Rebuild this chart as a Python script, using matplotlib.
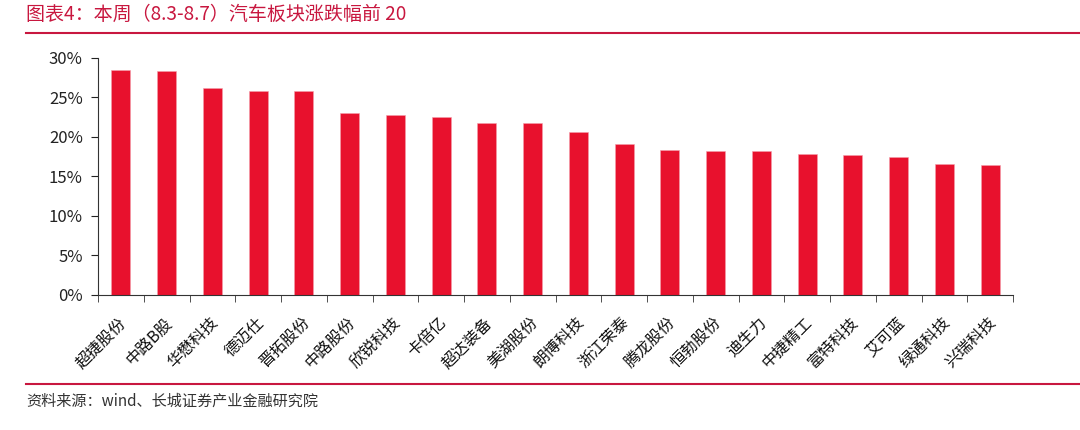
import matplotlib
matplotlib.use("Agg")
import matplotlib.pyplot as plt
import matplotlib.transforms as mtransforms
from matplotlib.ticker import FuncFormatter, FixedLocator
from matplotlib.lines import Line2D

plt.rcParams['font.family'] = ['Noto Sans CJK SC', 'DejaVu Sans']

categories = ["超捷股份", "中路B股", "华懋科技", "德迈仕", "晋拓股份", "中路股份", "欣锐科技",
              "卡倍亿", "超达装备", "美湖股份", "朗博科技", "浙江荣泰", "腾龙股份", "恒勃股份",
              "迪生力", "中捷精工", "富特科技", "艾可蓝", "绿通科技", "兴瑞科技"]
values = [28.5, 28.35, 26.15, 25.8, 25.8, 23.05, 22.8, 22.5, 21.8, 21.7,
          20.6, 19.1, 18.35, 18.25, 18.2, 17.85, 17.75, 17.45, 16.6, 16.45]
yticks = [0, 5, 10, 15, 20, 25, 30]

title = "图表4：本周（8.3-8.7）汽车板块涨跌幅前 20"
source = "资料来源：wind、长城证券产业金融研究院"

red = "#e8112d"
title_red = "#c8173f"

fig = plt.figure(figsize=(10.8, 4.3), dpi=100)
ax = fig.add_axes([98/1080, 1 - 294.7/430, (1013-98)/1080, (294.7-58)/430])

x = list(range(len(categories)))
ax.bar(x, values, width=0.41, color=red, edgecolor="#f4a0ac", linewidth=0.4)
ax.set_xlim(-0.5, len(categories) - 0.5)
ax.set_ylim(0, 30)
ax.set_yticks(yticks)
ax.yaxis.set_major_formatter(FuncFormatter(lambda v, p: f"{int(v)}%"))
ax.tick_params(axis='y', labelsize=12, length=5, direction='out', colors='#222222', pad=6)

ax.xaxis.set_major_locator(FixedLocator(x))
ax.set_xticklabels(categories, rotation=45, ha='right', va='top', rotation_mode='anchor', fontsize=11.5)
ax.tick_params(axis='x', which='major', length=0, pad=14, colors='#111111')
ax.xaxis.set_minor_locator(FixedLocator([i - 0.5 for i in range(len(categories) + 1)]))
ax.tick_params(axis='x', which='minor', length=5, direction='out', color='#333333')
shift = mtransforms.ScaledTranslation(-3/100, 0, fig.dpi_scale_trans)
for lab in ax.get_xticklabels():
    lab.set_transform(lab.get_transform() + shift)

for s in ['top', 'right']:
    ax.spines[s].set_visible(False)
ax.spines['left'].set_color('#333333')
ax.spines['bottom'].set_color('#333333')

fig.text(26/1080, 1 - 14/430, title, color=title_red, fontsize=13.7, style='italic',
         ha='left', va='center')
fig.add_artist(Line2D([26/1080, 1.0], [1 - 33/430, 1 - 33/430], color=title_red, linewidth=1.5,
                      transform=fig.transFigure))
fig.add_artist(Line2D([26/1080, 1.0], [1 - 384/430, 1 - 384/430], color=title_red, linewidth=1.5,
                      transform=fig.transFigure))
fig.text(26/1080, 1 - 401/430, source, color='#333333', fontsize=10.9, style='italic',
         ha='left', va='center')

fig.savefig("out.png", dpi=100)
